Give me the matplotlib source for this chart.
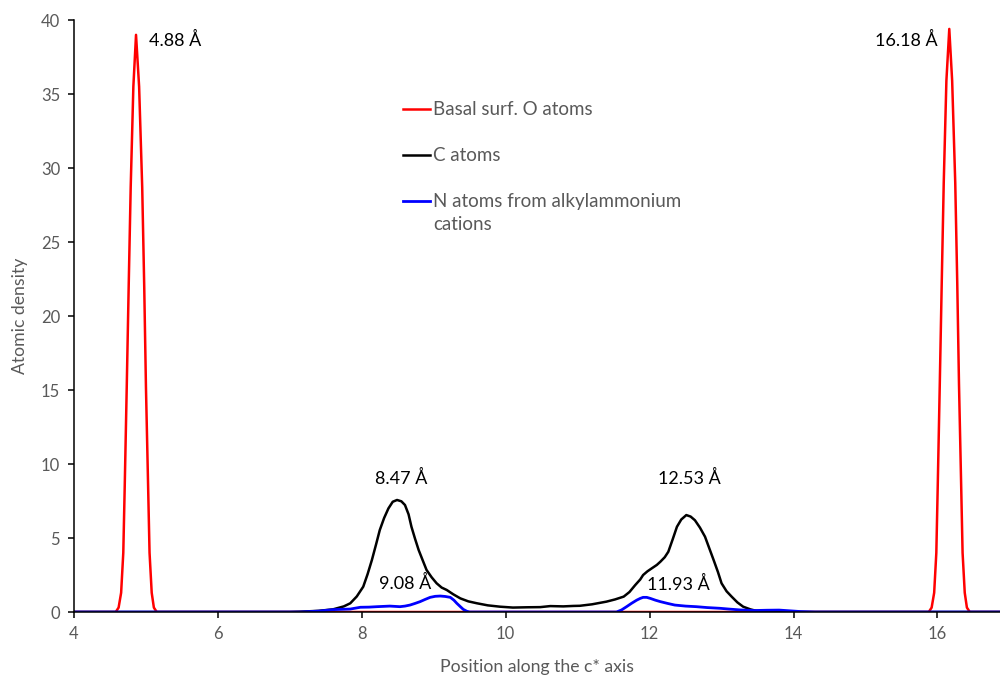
import matplotlib
matplotlib.use("Agg")
import matplotlib.pyplot as plt

# Basal surface O atoms (red)
o_x = [4.00, 4.58, 4.62, 4.655, 4.685, 4.705, 4.733, 4.76, 4.788, 4.825,
       4.862, 4.905, 4.948, 4.976, 5.00, 5.03, 5.05, 5.08, 5.11, 5.15,
       15.88, 15.92, 15.955, 15.985, 16.005, 16.033, 16.06, 16.088, 16.125,
       16.165, 16.205, 16.248, 16.276, 16.30, 16.33, 16.35, 16.38, 16.41,
       16.45, 16.9]
o_y = [0, 0, 0.3, 1.3, 4.0, 8.5, 15.2, 22.0, 28.7, 35.5,
       39.0, 35.5, 28.7, 22.0, 15.2, 8.5, 4.0, 1.3, 0.3, 0,
       0, 0.3, 1.3, 4.0, 8.6, 15.4, 22.2, 29.0, 35.9,
       39.4, 35.9, 29.0, 22.2, 15.4, 8.6, 4.0, 1.3, 0.3,
       0, 0]

# C atoms (black)
c_x = [4.00, 7.00, 7.14, 7.40, 7.60, 7.75, 7.84, 7.93, 8.02, 8.08,
       8.14, 8.20, 8.25, 8.31, 8.37, 8.43, 8.49, 8.55, 8.60, 8.65,
       8.69, 8.74, 8.79, 8.85, 8.90, 8.97, 9.04, 9.11, 9.18, 9.27,
       9.37, 9.48, 9.60, 9.75, 9.92, 10.10, 10.30, 10.48, 10.62, 10.80,
       10.94, 11.03, 11.20, 11.40, 11.52, 11.64, 11.72, 11.80, 11.87, 11.91,
       11.97, 12.03, 12.10, 12.15, 12.21, 12.26, 12.32, 12.38, 12.44, 12.51,
       12.57, 12.63, 12.70, 12.77, 12.83, 12.89, 12.95, 13.00, 13.07, 13.14,
       13.22, 13.30, 13.40, 13.49, 13.70, 13.90, 16.9]
c_y = [0, 0, 0.02, 0.08, 0.18, 0.38, 0.59, 1.05, 1.71, 2.55,
       3.51, 4.60, 5.54, 6.35, 7.00, 7.45, 7.57, 7.48, 7.23, 6.60,
       5.76, 4.95, 4.19, 3.45, 2.84, 2.35, 1.94, 1.65, 1.49, 1.20,
       0.92, 0.72, 0.59, 0.45, 0.36, 0.30, 0.32, 0.33, 0.40, 0.38,
       0.41, 0.42, 0.52, 0.70, 0.85, 1.04, 1.35, 1.82, 2.20, 2.50,
       2.75, 2.95, 3.18, 3.40, 3.70, 4.07, 4.90, 5.76, 6.25, 6.55,
       6.45, 6.20, 5.70, 5.09, 4.30, 3.51, 2.70, 1.94, 1.40, 1.04,
       0.65, 0.36, 0.18, 0.07, 0.02, 0, 0]

# N atoms from alkylammonium cations (blue)
n_x = [4.00, 7.14, 7.40, 7.60, 7.84, 7.98, 8.10, 8.21, 8.30, 8.39,
       8.53, 8.60, 8.67, 8.74, 8.81, 8.88, 8.95, 9.02, 9.09, 9.16,
       9.23, 9.28, 9.32, 9.37, 9.41, 9.46, 9.50, 11.54, 11.61, 11.68,
       11.75, 11.82, 11.87, 11.91, 11.96, 12.01, 12.08, 12.15, 12.25, 12.35,
       12.50, 12.65, 12.80, 12.98, 13.10, 13.26, 13.45, 13.63, 13.80, 13.95,
       14.10, 14.30, 16.9]
n_y = [0, 0, 0.06, 0.16, 0.20, 0.32, 0.33, 0.36, 0.38, 0.40,
       0.36, 0.40, 0.47, 0.58, 0.70, 0.85, 0.99, 1.06, 1.08, 1.05,
       0.99, 0.80, 0.59, 0.36, 0.18, 0.05, 0, 0, 0.14, 0.36,
       0.59, 0.80, 0.92, 0.99, 0.99, 0.92, 0.80, 0.70, 0.58, 0.47,
       0.40, 0.36, 0.30, 0.25, 0.20, 0.14, 0.10, 0.12, 0.13, 0.08,
       0.03, 0, 0]

labels = ["Basal surf. O atoms", "C atoms", "N atoms from alkylammonium"]
label_wrap = "cations"

# peak annotations: text, x, y, alignment
peak_txt = ["4.88 Å", "16.18 Å", "8.47 Å", "9.08 Å", "12.53 Å", "11.93 Å"]
peak_x = [5.04, 16.0, 8.55, 8.60, 12.55, 12.40]
peak_y = [38.6, 38.6, 9.0, 1.95, 9.0, 1.85]
peak_ha = ["left", "right", "center", "center", "center", "center"]

GREY = "#595959"
plt.rcParams["font.family"] = ["Lato", "DejaVu Sans"]

fig = plt.figure(figsize=(10, 6.77), dpi=100)
ax = fig.add_axes([0.074, 0.096, 0.926, 0.8744])

ax.plot(o_x, o_y, color="#ff0000", lw=1.8, label=labels[0])
ax.plot(c_x, c_y, color="black", lw=1.8, label=labels[1])
ax.plot(n_x, n_y, color="#0000ff", lw=2.0, label=labels[2])

for t, x, y, ha in zip(peak_txt, peak_x, peak_y, peak_ha):
    ax.text(x, y, t, ha=ha, va="center", fontsize=13, color="black")

ax.set_xlim(4, 16.87)
ax.set_ylim(0, 40)
ax.set_xticks([4, 6, 8, 10, 12, 14, 16])
ax.set_yticks(range(0, 41, 5))

for s in ["top", "right"]:
    ax.spines[s].set_visible(False)
for s in ["left", "bottom"]:
    ax.spines[s].set_linewidth(1.1)
ax.tick_params(direction="out", length=4, width=1.1, color="black",
               labelcolor=GREY, labelsize=12, pad=6)

ax.set_xlabel("Position along the c* axis", color=GREY, fontsize=12.7,
              labelpad=12)
ax.set_ylabel("Atomic density", color=GREY, fontsize=12.7, labelpad=9)

leg = ax.legend(loc="upper left", bbox_to_anchor=(0.355, 0.863),
                frameon=False, fontsize=13.5, handlelength=1.45,
                handletextpad=0.16, labelspacing=1.55, borderpad=0,
                borderaxespad=0)
for t in leg.get_texts():
    t.set_color(GREY)
# second line of the wrapped legend label
ax.text(0.3877, 0.6554, label_wrap, transform=ax.transAxes, ha="left",
        va="center", fontsize=13.5, color=GREY)

fig.savefig("out.png", dpi=100)
